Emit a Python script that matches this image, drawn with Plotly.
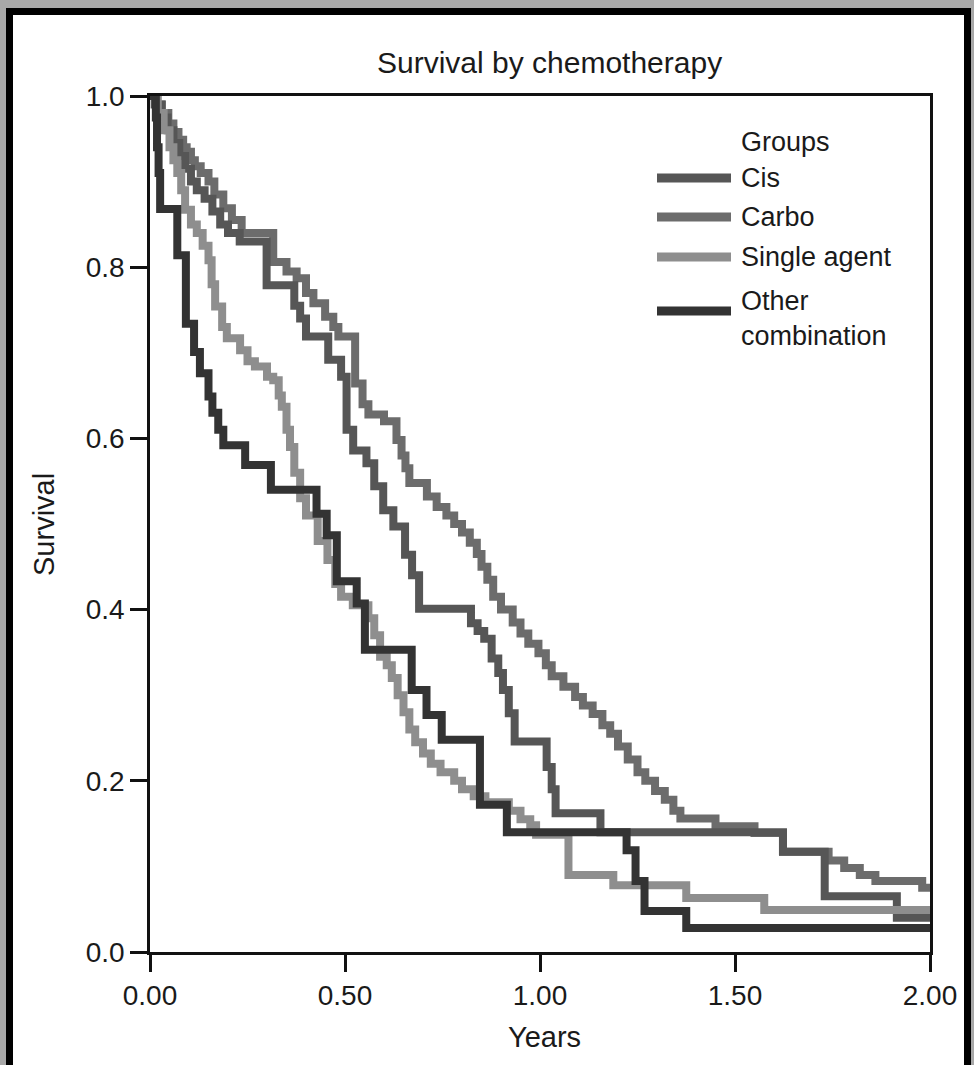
import plotly.graph_objects as go

# Kaplan-Meier step estimates (time in years, survival probability from that time on)
cis_t = [0, 0.012, 0.03, 0.045, 0.06, 0.075, 0.09, 0.105, 0.12, 0.14, 0.16, 0.18, 0.20, 0.23,
         0.299, 0.37, 0.385, 0.40, 0.457, 0.49, 0.504, 0.521, 0.555, 0.575, 0.598, 0.624, 0.654,
         0.672, 0.69, 0.823, 0.84, 0.857, 0.876, 0.893, 0.905, 0.92, 0.935, 1.017, 1.03, 1.04,
         1.155, 1.623, 1.73, 1.915]
cis_s = [1.0, 0.99, 0.975, 0.96, 0.945, 0.93, 0.915, 0.90, 0.89, 0.88, 0.865, 0.85, 0.84, 0.83,
         0.779, 0.755, 0.74, 0.719, 0.692, 0.672, 0.61, 0.586, 0.571, 0.544, 0.516, 0.497, 0.464,
         0.44, 0.401, 0.384, 0.375, 0.366, 0.343, 0.326, 0.306, 0.279, 0.246, 0.216, 0.19, 0.162,
         0.14, 0.117, 0.065, 0.04]

carbo_t = [0, 0.017, 0.03, 0.047, 0.06, 0.073, 0.085, 0.094, 0.105, 0.115, 0.13, 0.15, 0.165,
           0.188, 0.21, 0.235, 0.316, 0.35, 0.376, 0.40, 0.419, 0.449, 0.47, 0.483, 0.526, 0.545,
           0.56, 0.60, 0.632, 0.645, 0.655, 0.665, 0.71, 0.735, 0.76, 0.78, 0.80, 0.82, 0.838,
           0.85, 0.865, 0.88, 0.90, 0.93, 0.95, 0.97, 0.996, 1.015, 1.03, 1.06, 1.09, 1.11, 1.135,
           1.16, 1.18, 1.20, 1.225, 1.25, 1.27, 1.295, 1.32, 1.342, 1.36, 1.45, 1.55, 1.623, 1.74,
           1.78, 1.82, 1.86, 1.98]
carbo_s = [1.0, 0.99, 0.98, 0.968, 0.958, 0.949, 0.94, 0.935, 0.925, 0.918, 0.91, 0.90, 0.885,
           0.869, 0.855, 0.84, 0.806, 0.795, 0.787, 0.77, 0.758, 0.742, 0.73, 0.719, 0.664, 0.64,
           0.628, 0.62, 0.598, 0.58, 0.565, 0.548, 0.532, 0.52, 0.51, 0.50, 0.49, 0.478, 0.465,
           0.45, 0.435, 0.415, 0.40, 0.385, 0.372, 0.36, 0.349, 0.335, 0.322, 0.31, 0.298, 0.288,
           0.278, 0.265, 0.255, 0.24, 0.225, 0.21, 0.20, 0.188, 0.178, 0.165, 0.156, 0.147, 0.139,
           0.117, 0.107, 0.098, 0.09, 0.083, 0.075]

single_t = [0, 0.02, 0.035, 0.05, 0.06, 0.07, 0.08, 0.09, 0.105, 0.12, 0.135, 0.15, 0.158, 0.167,
            0.185, 0.197, 0.231, 0.25, 0.269, 0.3, 0.316, 0.33, 0.338, 0.35, 0.359, 0.37, 0.385,
            0.40, 0.43, 0.455, 0.475, 0.49, 0.52, 0.56, 0.575, 0.59, 0.607, 0.62, 0.635, 0.65,
            0.665, 0.68, 0.70, 0.72, 0.745, 0.78, 0.80, 0.83, 0.86, 0.92, 0.95, 0.975, 0.99, 1.073,
            1.188, 1.375, 1.575]
single_s = [1.0, 0.98, 0.96, 0.94, 0.925, 0.91, 0.89, 0.867, 0.85, 0.84, 0.825, 0.808, 0.78, 0.754,
            0.73, 0.717, 0.703, 0.69, 0.684, 0.672, 0.668, 0.65, 0.637, 0.61, 0.59, 0.56, 0.53,
            0.51, 0.48, 0.458, 0.43, 0.415, 0.405, 0.39, 0.37, 0.345, 0.335, 0.32, 0.30, 0.28,
            0.26, 0.245, 0.232, 0.22, 0.21, 0.20, 0.19, 0.182, 0.175, 0.165, 0.155, 0.148, 0.137,
            0.09, 0.078, 0.063, 0.049]

other_t = [0, 0.015, 0.018, 0.022, 0.026, 0.07, 0.092, 0.113, 0.128, 0.15, 0.16, 0.175, 0.188,
           0.244, 0.31, 0.427, 0.453, 0.479, 0.53, 0.551, 0.671, 0.709, 0.748, 0.846, 0.915, 1.222,
           1.245, 1.268, 1.375]
other_s = [1.0, 0.975, 0.94, 0.91, 0.868, 0.814, 0.734, 0.701, 0.676, 0.649, 0.63, 0.61, 0.592,
           0.569, 0.54, 0.512, 0.487, 0.433, 0.407, 0.353, 0.306, 0.277, 0.248, 0.172, 0.14, 0.119,
           0.083, 0.048, 0.028]

groups = ["Cis", "Carbo", "Single agent", "Other combination"]
legend_labels = ["Cis", "Carbo", "Single agent", "Other<br>combination"]
colors = ["#565656", "#6c6c6c", "#8e8e8e", "#333333"]

x_ticks = [0, 0.5, 1.0, 1.5, 2.0]
x_tick_text = ["0.00", "0.50", "1.00", "1.50", "2.00"]
y_ticks = [0, 0.2, 0.4, 0.6, 0.8, 1.0]
y_tick_text = ["0.0", "0.2", "0.4", "0.6", "0.8", "1.0"]

T_END = 2.0
FONT = "Liberation Sans, Arial, sans-serif"
TEXT_COL = "#1a1a1a"
W, H = 974, 1065
L, R, T, B = 150, 44, 96, 113
PW, PH = W - L - R, H - T - B


def px_x(px):
    return (px - L) / PW


def px_y(py):
    return (H - B - py) / PH


series = {
    "Cis": (cis_t, cis_s),
    "Carbo": (carbo_t, carbo_s),
    "Single agent": (single_t, single_s),
    "Other combination": (other_t, other_s),
}

fig = go.Figure()
# Carbo first so the darker Cis curve sits on top where they coincide
for name in ["Carbo", "Cis", "Single agent", "Other combination"]:
    t, s = series[name]
    col = colors[groups.index(name)]
    fig.add_trace(go.Scatter(
        x=list(t) + [T_END], y=list(s) + [s[-1]],
        mode="lines", line=dict(shape="hv", color=col, width=8),
        name=name, showlegend=False, hoverinfo="skip",
    ))

shapes = [
    # grey outer edge and black frame around the white page
    dict(type="rect", xref="paper", yref="paper", layer="below",
         x0=px_x(6), x1=px_x(971), y0=px_y(H + 10), y1=px_y(8),
         fillcolor="#000000", line=dict(width=0)),
    dict(type="rect", xref="paper", yref="paper", layer="below",
         x0=px_x(13), x1=px_x(964), y0=px_y(H + 10), y1=px_y(15),
         fillcolor="#ffffff", line=dict(width=0)),
]

annotations = []
# hand-built legend with long line samples
leg_line_y = [178, 217, 257, 311]
leg_text_y = [178, 217, 257, 318]
LEG_SIZE = 27
for i, name in enumerate(groups):
    shapes.append(dict(type="line", xref="paper", yref="paper",
                       x0=px_x(657), x1=px_x(731), y0=px_y(leg_line_y[i]), y1=px_y(leg_line_y[i]),
                       line=dict(color=colors[i], width=9)))
    annotations.append(dict(xref="paper", yref="paper", x=px_x(739), y=px_y(leg_text_y[i]),
                            text=legend_labels[i], showarrow=False, xanchor="left",
                            yanchor="middle", align="left",
                            font=dict(family=FONT, size=LEG_SIZE, color=TEXT_COL)))
annotations.append(dict(xref="paper", yref="paper", x=px_x(739), y=px_y(142), text="Groups",
                        showarrow=False, xanchor="left", yanchor="middle",
                        font=dict(family=FONT, size=LEG_SIZE, color=TEXT_COL)))

# title and axis titles
annotations.append(dict(xref="paper", yref="paper", x=px_x(549), y=px_y(62),
                        text="Survival by chemotherapy", showarrow=False,
                        xanchor="center", yanchor="middle",
                        font=dict(family=FONT, size=30, color=TEXT_COL)))
annotations.append(dict(xref="paper", yref="paper", x=px_x(544), y=px_y(1037), text="Years",
                        showarrow=False, xanchor="center", yanchor="middle",
                        font=dict(family=FONT, size=29, color=TEXT_COL)))
annotations.append(dict(xref="paper", yref="paper", x=px_x(44), y=px_y(525), text="Survival",
                        showarrow=False, textangle=-90, xanchor="center", yanchor="middle",
                        font=dict(family=FONT, size=29, color=TEXT_COL)))

axis_common = dict(showline=True, linecolor="#111111", linewidth=2.5, mirror=True,
                   ticks="outside", ticklen=17, tickwidth=2.5, tickcolor="#111111",
                   showgrid=False, zeroline=False,
                   tickfont=dict(family=FONT, size=28, color=TEXT_COL))

fig.update_layout(
    width=W, height=H,
    margin=dict(l=L, r=R, t=T, b=B, pad=0),
    paper_bgcolor="#a8a8a8", plot_bgcolor="#ffffff",
    xaxis=dict(range=[0, 2.0], tickvals=x_ticks, ticktext=x_tick_text, **axis_common),
    yaxis=dict(range=[0, 1.0], tickvals=y_ticks, ticktext=y_tick_text, **axis_common),
    shapes=shapes, annotations=annotations, showlegend=False,
)

fig.write_html("out.html")
